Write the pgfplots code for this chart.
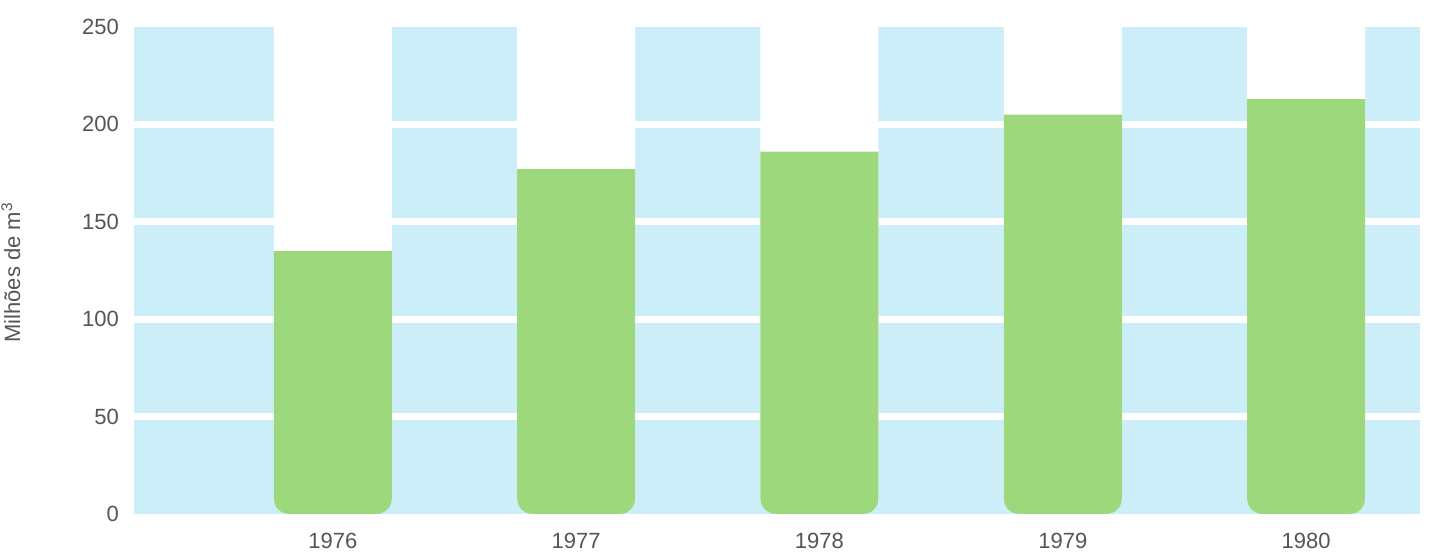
\documentclass[border=0pt]{standalone}
\usepackage{fontspec}
\setmainfont{Liberation Sans}
\usepackage{pgfplots}
\pgfplotsset{compat=1.18}
\definecolor{bgblue}{HTML}{CCEEF8}
\definecolor{barGreen}{HTML}{9DD97C}
\definecolor{txtgray}{HTML}{555555}
% blue masks that round off the two bottom corners of a 59pt-wide bar
\pgfdeclareplotmark{roundbottom}{%
  \pgfpathmoveto{\pgfpoint{-22pt}{0pt}}%
  \pgfpatharc{270}{180}{7.5pt}%
  \pgfpathlineto{\pgfpoint{-30.5pt}{7.5pt}}%
  \pgfpathlineto{\pgfpoint{-30.5pt}{0pt}}%
  \pgfpathclose
  \pgfpathmoveto{\pgfpoint{22pt}{0pt}}%
  \pgfpatharc{270}{360}{7.5pt}%
  \pgfpathlineto{\pgfpoint{30.5pt}{7.5pt}}%
  \pgfpathlineto{\pgfpoint{30.5pt}{0pt}}%
  \pgfpathclose
  \pgfsetfillcolor{bgblue}\pgfusepath{fill}%
}
\begin{document}
\begin{tikzpicture}
\begin{axis}[
  scale only axis,
  width=643pt, height=243.5pt,
  anchor=south west, at={(0,0)},
  xmin=-0.817, xmax=4.468,
  ymin=0, ymax=250,
  axis line style={draw=none},
  axis background/.style={fill=bgblue},
  major tick length=0pt,
  xtick={0,1,2,3,4},
  xticklabels={1976,1977,1978,1979,1980},
  ytick={50,100,150,200},
  extra y ticks={0,250},
  extra y tick style={grid=none},
  ymajorgrids,
  major grid style={white, line width=3.5pt},
  /pgf/number format/assume math mode=true,
  tick label style={font=\fontsize{11}{13}\selectfont, text=txtgray},
  yticklabel style={xshift=-4pt},
  xticklabel style={yshift=-6pt},
  ylabel={Milhões de m\textsuperscript{3}},
  ylabel style={at={(axis description cs:-0.0957,0.496)}, anchor=center, font=\fontsize{11}{13}\selectfont, text=txtgray},
  clip=false,
]
% white columns behind the bars
\addplot[ybar, bar width=59pt, fill=white, draw=none] coordinates {(0,250) (1,250) (2,250) (3,250) (4,250)};
% green bars
\addplot[ybar, bar width=59pt, fill=barGreen, draw=none] coordinates {(0,135) (1,177) (2,186) (3,205) (4,213)};
% rounded bottoms
\addplot[only marks, mark=roundbottom] coordinates {(0,0) (1,0) (2,0) (3,0) (4,0)};
\end{axis}
\pgfresetboundingbox
\path (-67pt,-23pt) rectangle (648pt,257pt);
\end{tikzpicture}
\end{document}
